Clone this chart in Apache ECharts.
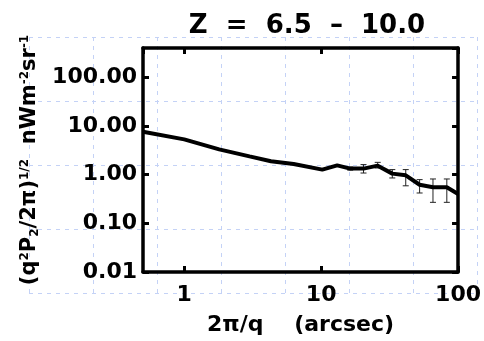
<!DOCTYPE html>
<html>
<head>
<meta charset="utf-8">
<script src="https://cdn.jsdelivr.net/npm/echarts@6/dist/echarts.min.js"></script>
<style>
  html, body { margin: 0; padding: 0; background: #ffffff; }
  #chart { width: 484px; height: 341px; }
</style>
</head>
<body>
<div id="chart"></div>
<script>
// angular scale 2pi/q (arcsec) and fluctuation amplitude (nW m^-2 sr^-1)
const scales = [0.5, 1, 1.8, 3.0, 4.3, 6.3, 10.2, 13.1, 16.3, 20.4, 25.9, 33.1, 41.5, 52.4, 65.6, 82.8, 100];
const amplitude = [7.6, 5.3, 3.3, 2.37, 1.88, 1.66, 1.27, 1.55, 1.33, 1.33, 1.53, 1.05, 0.97, 0.62, 0.55, 0.55, 0.40];

// error bars (only on the small-q end)
const errScales = [16.3, 20.4, 25.9, 33.1, 41.5, 52.4, 65.6, 82.8];
const errLow = [1.24, 1.08, 1.37, 0.855, 0.59, 0.42, 0.27, 0.27];
const errHigh = [1.43, 1.61, 1.79, 1.27, 1.27, 0.79, 0.815, 0.815];

const yTicks = [0.01, 0.1, 1, 10, 100];
const xTicks = [1, 10, 100];

const FONT = "DejaVu Sans";
const PAPER = "#c4d2f6";
const chart = echarts.init(document.getElementById("chart"), null, { renderer: "canvas" });

const lineData = scales.map((s, i) => [s, amplitude[i]]);
const errData = errScales.map((s, i) => [s, errLow[i], errHigh[i]]);

const logX = {
  type: "log", logBase: 10, min: 0.5, max: 100, gridIndex: 0
};
const logY = {
  type: "log", logBase: 10, min: 0.01, max: 400, gridIndex: 0
};

chart.setOption({
  animation: false,
  backgroundColor: "#ffffff",
  title: {
    text: "Z  =  6.5  \u2013  10.0",
    left: 302, top: 8, textAlign: "center",
    textStyle: { fontFamily: FONT, fontSize: 26, fontWeight: "bold", color: "#000" }
  },
  grid: [
    { left: 143, right: 22, top: 48, bottom: 69, z: 2 },
    // graph-paper background
    { left: 29, right: 7, top: 37, bottom: 48, z: 0 }
  ],
  xAxis: [
    Object.assign({}, logX, {
      position: "bottom",
      axisLine: { lineStyle: { color: "#000", width: 3.5 } },
      axisTick: { inside: true, length: 6, lineStyle: { color: "#000", width: 3 } },
      splitLine: { show: false },
      axisLabel: {
        showMinLabel: false, margin: 12, color: "#000",
        fontFamily: FONT, fontSize: 22, fontWeight: "bold",
        formatter: v => (xTicks.indexOf(Math.round(v)) >= 0 ? String(Math.round(v)) : "")
      },
      name: "2\u03c0/q    (arcsec)",
      nameLocation: "middle", nameGap: 42,
      nameTextStyle: { fontFamily: FONT, fontSize: 22, fontWeight: "bold", color: "#000" }
    }),
    Object.assign({}, logX, {
      position: "top",
      axisLine: { lineStyle: { color: "#000", width: 3.5 } },
      axisTick: { inside: true, length: 6, lineStyle: { color: "#000", width: 3 } },
      axisLabel: { show: false },
      splitLine: { show: false }
    }),
    {
      type: "value", gridIndex: 1, min: 0, max: 448, interval: 64,
      axisLine: { show: false }, axisTick: { show: false }, axisLabel: { show: false },
      splitLine: { show: true, showMinLine: true, showMaxLine: true,
        lineStyle: { color: PAPER, type: [4, 5], width: 1 } }
    }
  ],
  yAxis: [
    Object.assign({}, logY, {
      position: "left",
      axisLine: { lineStyle: { color: "#000", width: 3.5 } },
      axisTick: { inside: true, length: 6, lineStyle: { color: "#000", width: 3 } },
      splitLine: { show: false },
      axisLabel: {
        showMaxLabel: false, margin: 6, color: "#000",
        fontFamily: FONT, fontSize: 22, fontWeight: "bold",
        formatter: v => {
          const t = yTicks.find(k => Math.abs(Math.log10(v) - Math.log10(k)) < 1e-6);
          return t !== undefined ? t.toFixed(2) : "";
        }
      },
      name: "(q{sup|2}P{sub|2}/2\u03c0){sup|1/2}  nWm{sup|-2}sr{sup|-1}",
      nameLocation: "middle", nameGap: 102, nameRotate: 90,
      nameTextStyle: {
        fontFamily: FONT, fontSize: 21, fontWeight: "bold", color: "#000",
        rich: {
          sup: { fontFamily: FONT, fontSize: 12, fontWeight: "bold", color: "#000", verticalAlign: "top", padding: [0, 0, 10, 0] },
          sub: { fontFamily: FONT, fontSize: 12, fontWeight: "bold", color: "#000", verticalAlign: "bottom", padding: [10, 0, 0, 0] }
        }
      }
    }),
    Object.assign({}, logY, {
      position: "right",
      axisLine: { lineStyle: { color: "#000", width: 3.5 } },
      axisTick: { inside: true, length: 6, lineStyle: { color: "#000", width: 3 } },
      axisLabel: { show: false },
      splitLine: { show: false }
    }),
    {
      type: "value", gridIndex: 1, min: 0, max: 256, interval: 64,
      axisLine: { show: false }, axisTick: { show: false }, axisLabel: { show: false },
      splitLine: { show: true, showMinLine: true, showMaxLine: true,
        lineStyle: { color: PAPER, type: [4, 5], width: 1 } }
    }
  ],
  series: [
    {
      type: "custom",
      xAxisIndex: 0, yAxisIndex: 0, z: 3,
      data: errData,
      renderItem: (params, api) => {
        const lo = api.coord([api.value(0), api.value(1)]);
        const hi = api.coord([api.value(0), api.value(2)]);
        const w = 3;
        const style = { stroke: "#222", lineWidth: 1 };
        return {
          type: "group",
          children: [
            { type: "line", shape: { x1: lo[0], y1: lo[1], x2: hi[0], y2: hi[1] }, style },
            { type: "line", shape: { x1: lo[0] - w, y1: lo[1], x2: lo[0] + w, y2: lo[1] }, style },
            { type: "line", shape: { x1: hi[0] - w, y1: hi[1], x2: hi[0] + w, y2: hi[1] }, style }
          ]
        };
      }
    },
    {
      type: "line",
      xAxisIndex: 0, yAxisIndex: 0, z: 4,
      data: lineData,
      showSymbol: false,
      lineStyle: { color: "#000", width: 4 },
      clip: true
    }
  ]
});
</script>
</body>
</html>
